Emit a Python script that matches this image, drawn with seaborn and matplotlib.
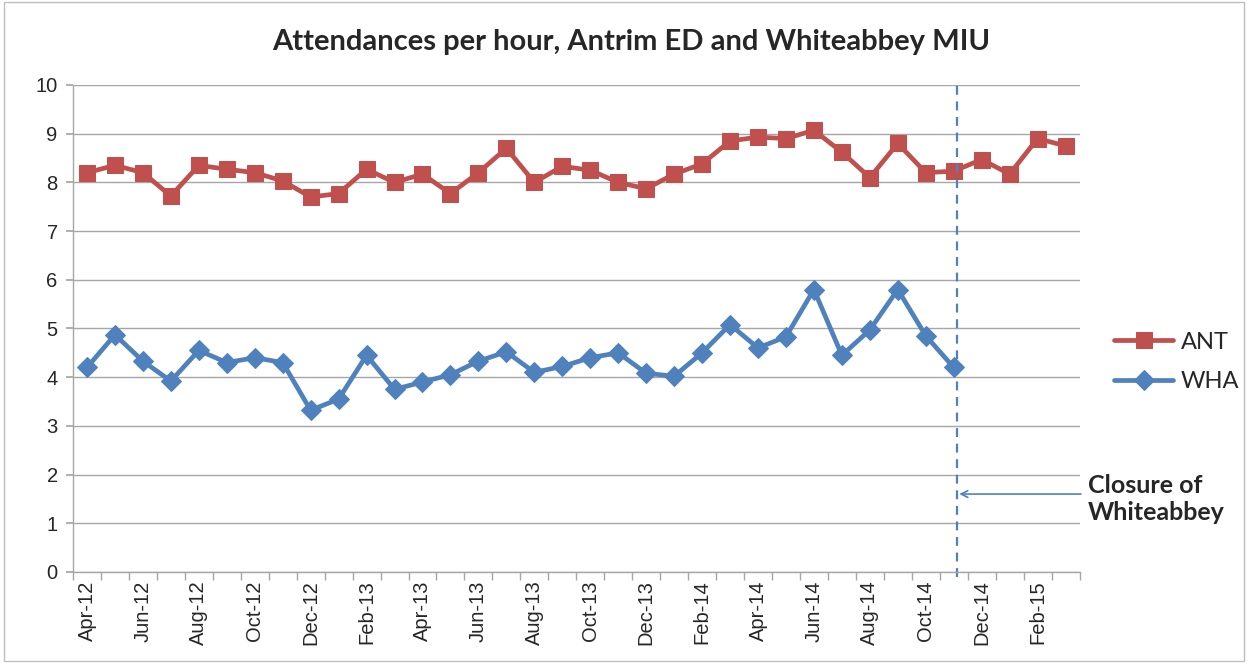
import matplotlib
matplotlib.use("Agg")
import matplotlib.pyplot as plt
import matplotlib.patches as patches
import seaborn as sns
import pandas as pd
import numpy as np

# Data
months = ["Apr-12", "May-12", "Jun-12", "Jul-12", "Aug-12", "Sep-12", "Oct-12", "Nov-12",
          "Dec-12", "Jan-13", "Feb-13", "Mar-13", "Apr-13", "May-13", "Jun-13", "Jul-13",
          "Aug-13", "Sep-13", "Oct-13", "Nov-13", "Dec-13", "Jan-14", "Feb-14", "Mar-14",
          "Apr-14", "May-14", "Jun-14", "Jul-14", "Aug-14", "Sep-14", "Oct-14", "Nov-14",
          "Dec-14", "Jan-15", "Feb-15", "Mar-15"]
ant = [8.2, 8.35, 8.2, 7.72, 8.35, 8.27, 8.2, 8.03, 7.7, 7.77, 8.27, 8.0,
       8.17, 7.77, 8.2, 8.7, 8.0, 8.33, 8.25, 8.0, 7.87, 8.17, 8.38, 8.85,
       8.93, 8.9, 9.07, 8.62, 8.1, 8.8, 8.2, 8.23, 8.47, 8.17, 8.9, 8.75]
wha = [4.2, 4.87, 4.33, 3.92, 4.55, 4.3, 4.4, 4.3, 3.32, 3.55, 4.45, 3.75,
       3.9, 4.05, 4.33, 4.52, 4.1, 4.22, 4.4, 4.5, 4.08, 4.02, 4.5, 5.08,
       4.6, 4.83, 5.8, 4.45, 4.97, 5.8, 4.85, 4.2]
closure_month = "Nov-14"

RED = "#C0504D"
BLUE = "#4F81BD"
GRID = "#A6A6A6"

sns.set_theme(style="white")
plt.rcParams["font.family"] = ["Liberation Sans", "DejaVu Sans"]

df_ant = pd.DataFrame({"x": np.arange(len(ant)), "y": ant})
df_wha = pd.DataFrame({"x": np.arange(len(wha)), "y": wha})

fig = plt.figure(figsize=(12.48, 6.63), dpi=100)
ax = fig.add_axes([0.0585, 0.1373, 0.8065, 0.7345])

sns.lineplot(data=df_ant, x="x", y="y", ax=ax, color=RED, linewidth=3.4,
             marker="s", markersize=11, markeredgecolor=RED, label="ANT", legend=False)
sns.lineplot(data=df_wha, x="x", y="y", ax=ax, color=BLUE, linewidth=3.4,
             marker="D", markersize=10, markeredgecolor=BLUE, label="WHA", legend=False)

# axes & grid
ax.set_xlim(-0.5, len(months) - 0.5)
ax.set_ylim(0, 10)
ax.set_yticks(range(0, 11))
ax.set_yticklabels([str(v) for v in range(0, 11)], fontsize=14.5)
ax.yaxis.grid(True, color=GRID, linewidth=1)
ax.set_axisbelow(True)
ax.set_xticks(np.arange(0, len(months), 2))
ax.set_xticklabels(months[::2], rotation=90, fontsize=14.5)
ax.set_xticks(np.arange(-0.5, len(months), 1), minor=True)
ax.tick_params(axis="x", which="major", length=0, pad=6)
ax.tick_params(axis="x", which="minor", length=6, color=GRID, direction="out", bottom=True)
ax.tick_params(axis="y", length=5, color=GRID, direction="out", left=True, pad=6)
ax.set_xlabel("")
ax.set_ylabel("")
for s in ["top", "right"]:
    ax.spines[s].set_visible(False)
for s in ["left", "bottom"]:
    ax.spines[s].set_color(GRID)
    ax.spines[s].set_linewidth(1)

# closure marker
xc = months.index(closure_month) + 0.1
ax.axvline(xc, color=BLUE, linestyle=(0, (4, 3)), linewidth=1.6, ymin=-0.01, ymax=1.0,
           clip_on=False)
ax.annotate("", xy=(xc, 1.6), xytext=(35.65, 1.6),
            arrowprops=dict(arrowstyle="->", color=BLUE, lw=1.2), annotation_clip=False)
ax.text(35.8, 1.5, "Closure of\nWhiteabbey", fontsize=18, fontweight="bold",
        family=["Lato", "DejaVu Sans"], va="center", ha="left", linespacing=1.25)

fig.text(0.506, 0.937, "Attendances per hour, Antrim ED and Whiteabbey MIU", fontsize=21,
         fontweight="bold", family=["Lato", "DejaVu Sans"], ha="center", va="center")

handles, labels = ax.get_legend_handles_labels()
fig.legend(handles, labels, loc="center left", bbox_to_anchor=(0.893, 0.454),
           frameon=False, handlelength=2.5, handletextpad=0.3, labelspacing=0.8,
           borderpad=0, borderaxespad=0, prop={"family": "Lato", "size": 17})

# outer chart border
fig.patches.append(patches.Rectangle((0.003, 0.003), 0.994, 0.994, transform=fig.transFigure,
                                     fill=False, edgecolor="#BFBFBF", linewidth=1))

fig.savefig("out.png", dpi=100)
